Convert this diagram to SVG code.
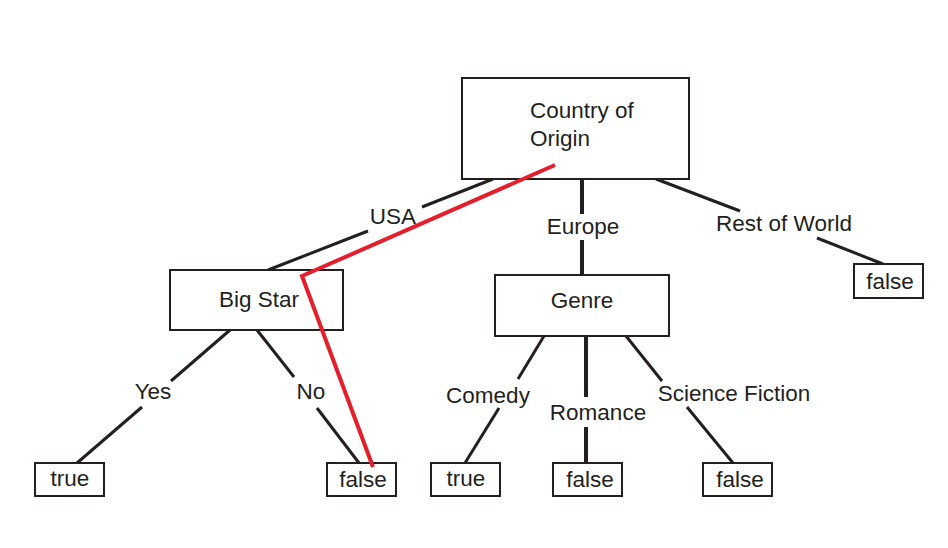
<svg xmlns="http://www.w3.org/2000/svg" width="948" height="548" viewBox="0 0 948 548">
<style>
.box{fill:#fff;stroke:#231f20;stroke-width:2}
.t{font-family:"Liberation Sans",Arial,sans-serif;font-size:22.5px;fill:#231f20}
.m{text-anchor:middle}
.e{stroke:#231f20;stroke-width:3;fill:none}
.thick{stroke-width:4}
.red{stroke:#e41e2b;stroke-width:4;fill:none;stroke-linejoin:miter}
</style>
<rect width="948" height="548" fill="#fff"/>
<g id="connectors">
<line class="e" x1="493" y1="179" x2="422" y2="207"/>
<line class="e" x1="368" y1="231" x2="268" y2="270"/>
<line class="e thick" x1="582" y1="179" x2="582" y2="214"/>
<line class="e thick" x1="582" y1="240" x2="582" y2="275"/>
<line class="e" x1="656" y1="179" x2="740" y2="211"/>
<line class="e" x1="817" y1="238" x2="883" y2="264"/>
<line class="e" x1="230" y1="330" x2="171" y2="381"/>
<line class="e" x1="142" y1="407" x2="77" y2="463"/>
<line class="e" x1="257" y1="330" x2="294" y2="377"/>
<line class="e" x1="317" y1="408" x2="359" y2="463"/>
<line class="e" x1="544" y1="336" x2="518" y2="379"/>
<line class="e" x1="499" y1="408" x2="465" y2="463"/>
<line class="e thick" x1="586" y1="336" x2="586" y2="397"/>
<line class="e thick" x1="586" y1="427" x2="586" y2="463"/>
<line class="e" x1="626" y1="336" x2="662" y2="381"/>
<line class="e" x1="687" y1="407" x2="733" y2="463"/>
<text class="t m" x="393" y="224">USA</text>
<text class="t m" x="583" y="234">Europe</text>
<text class="t m" x="784" y="231">Rest of World</text>
<text class="t m" x="153" y="399">Yes</text>
<text class="t m" x="311" y="399">No</text>
<text class="t m" x="488" y="403">Comedy</text>
<text class="t m" x="598" y="420">Romance</text>
<text class="t m" x="734" y="401">Science Fiction</text>
</g>
<g id="n-country"><rect class="box" x="462" y="78" width="227" height="101"/><text class="t" x="530" y="118">Country of</text><text class="t" x="530" y="146">Origin</text></g>
<g id="n-bigstar"><rect class="box" x="170" y="270" width="173" height="60"/><text class="t m" x="259" y="307">Big Star</text></g>
<g id="n-genre"><rect class="box" x="495" y="275" width="174" height="61"/><text class="t m" x="582" y="308">Genre</text></g>
<g id="n-row-false"><rect class="box" x="854" y="264" width="69" height="34"/><text class="t m" x="890" y="289">false</text></g>
<g id="n-true1"><rect class="box" x="35" y="463" width="69" height="33"/><text class="t m" x="70" y="486">true</text></g>
<g id="n-false1"><rect class="box" x="327" y="463" width="69" height="33"/><text class="t m" x="363" y="487">false</text></g>
<g id="n-true2"><rect class="box" x="431" y="463" width="69" height="33"/><text class="t m" x="466" y="486">true</text></g>
<g id="n-false2"><rect class="box" x="553" y="463" width="69" height="33"/><text class="t m" x="590" y="487">false</text></g>
<g id="n-false3"><rect class="box" x="703" y="463" width="69" height="33"/><text class="t m" x="740" y="487">false</text></g>
<g id="red-path"><polyline class="red" points="555,165 302,276 373,467"/></g>
</svg>
